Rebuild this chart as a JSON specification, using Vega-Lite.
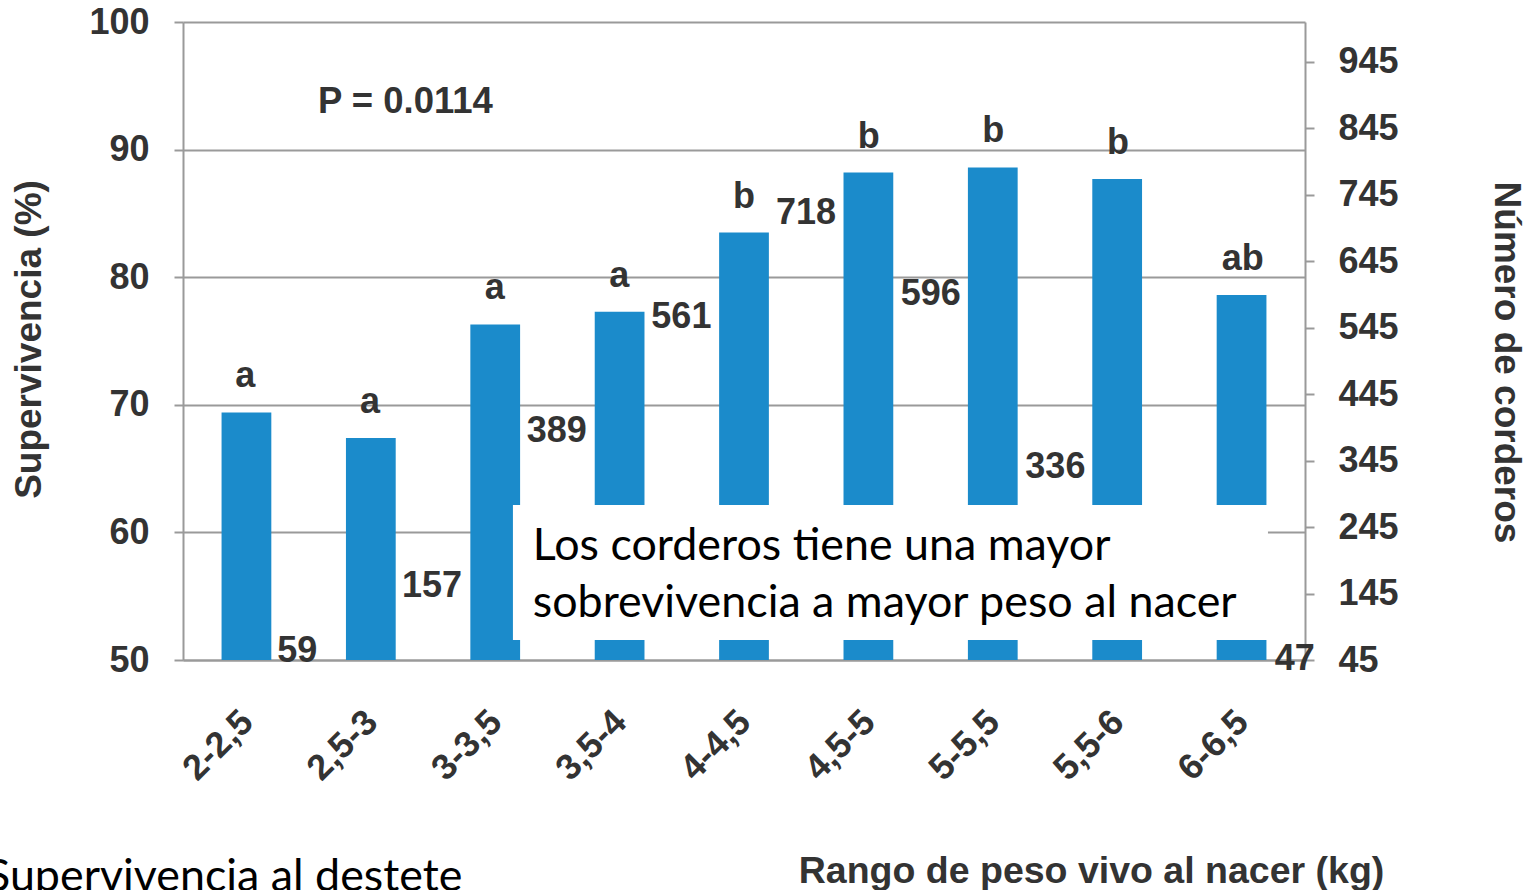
{
  "$schema": "https://vega.github.io/schema/vega-lite/v6.json",
  "width": 1122,
  "height": 638,
  "autosize": {"type": "none"},
  "padding": {"left": 183, "top": 22, "right": 226, "bottom": 230},
  "background": "white",
  "config": {
    "view": {"stroke": null},
    "font": "Liberation Sans"
  },
  "data": {
    "values": [
      {"rango": "2-2,5", "superv": 69.4, "letra": "a", "n": 59},
      {"rango": "2,5-3", "superv": 67.4, "letra": "a", "n": 157},
      {"rango": "3-3,5", "superv": 76.3, "letra": "a", "n": 389},
      {"rango": "3,5-4", "superv": 77.3, "letra": "a", "n": 561},
      {"rango": "4-4,5", "superv": 83.5, "letra": "b", "n": 718},
      {"rango": "4,5-5", "superv": 88.2, "letra": "b", "n": 596},
      {"rango": "5-5,5", "superv": 88.6, "letra": "b", "n": 336},
      {"rango": "5,5-6", "superv": 87.7, "letra": "b", "n": null},
      {"rango": "6-6,5", "superv": 78.6, "letra": "ab", "n": 47}
    ]
  },
  "resolve": {"scale": {"x": "independent", "y": "independent"}},
  "layer": [
    {
      "mark": {"type": "bar", "color": "#1b8bcb"},
      "encoding": {
        "x": {
          "field": "rango", "type": "nominal",
          "scale": {"domain": ["2-2,5","2,5-3","3-3,5","3,5-4","4-4,5","4,5-5","5-5,5","5,5-6","6-6,5"], "paddingInner": 0.6, "paddingOuter": 0.31},
          "axis": {
            "title": "Rango de peso vivo al nacer (kg)",
            "titleX": 908, "titleY": 222, "titleAlign": "center", "titleBaseline": "alphabetic",
            "titleFontSize": 37.5, "titleFontWeight": "bold", "titleColor": "#333333",
            "labelAngle": -45, "labelAlign": "right", "labelBaseline": "middle",
            "labelPadding": 56, "labelOffset": 1, "ticks": false,
            "labelFontSize": 36, "labelFontWeight": "bold", "labelColor": "#333333",
            "domain": true, "domainColor": "#9a9a9a", "domainWidth": 2, "grid": false
          }
        },
        "y": {
          "field": "superv", "type": "quantitative",
          "scale": {"domain": [50, 100], "nice": false, "zero": false},
          "axis": {
            "orient": "left",
            "values": [50, 60, 70, 80, 90, 100],
            "title": "Supervivencia (%)",
            "titleAngle": -90, "titleX": -154, "titleY": 317, "titleAlign": "center", "titleBaseline": "middle",
            "titleFontSize": 37, "titleFontWeight": "bold", "titleColor": "#333333",
            "grid": true, "gridColor": "#9a9a9a", "gridWidth": 2,
            "domain": true, "domainColor": "#9a9a9a", "domainWidth": 2,
            "ticks": true, "tickSize": 9, "tickColor": "#9a9a9a", "tickWidth": 2,
            "labelPadding": 25, "labelFontSize": 36, "labelFontWeight": "bold", "labelColor": "#333333"
          }
        },
        "y2": {"datum": 50}
      }
    },
    {
      "mark": {"type": "text", "dy": -25, "baseline": "alphabetic", "align": "center", "fontSize": 36, "fontWeight": "bold", "color": "#333333"},
      "encoding": {
        "x": {
          "field": "rango", "type": "nominal",
          "scale": {"domain": ["2-2,5","2,5-3","3-3,5","3,5-4","4-4,5","4,5-5","5-5,5","5,5-6","6-6,5"], "paddingInner": 0.6, "paddingOuter": 0.31},
          "axis": null
        },
        "y": {"field": "superv", "type": "quantitative", "scale": {"domain": [50, 100], "nice": false, "zero": false}, "axis": null},
        "text": {"field": "letra", "type": "nominal"}
      }
    },
    {
      "mark": {"type": "text", "dx": 32, "baseline": "middle", "align": "left", "fontSize": 36, "fontWeight": "bold", "color": "#333333"},
      "encoding": {
        "x": {
          "field": "rango", "type": "nominal",
          "scale": {"domain": ["2-2,5","2,5-3","3-3,5","3,5-4","4-4,5","4,5-5","5-5,5","5,5-6","6-6,5"], "paddingInner": 0.6, "paddingOuter": 0.31},
          "axis": null
        },
        "y": {
          "field": "n", "type": "quantitative",
          "scale": {"domain": [45, 1005], "nice": false, "zero": false},
          "axis": {
            "orient": "right",
            "values": [45, 145, 245, 345, 445, 545, 645, 745, 845, 945],
            "title": "Número de corderos",
            "titleAngle": 90, "titleX": 200, "titleY": 340, "titleAlign": "center", "titleBaseline": "middle",
            "titleFontSize": 37, "titleFontWeight": "bold", "titleColor": "#333333",
            "grid": false,
            "domain": true, "domainColor": "#9a9a9a", "domainWidth": 2,
            "ticks": true, "tickSize": 9, "tickColor": "#9a9a9a", "tickWidth": 2,
            "labelPadding": 24, "labelFontSize": 36, "labelFontWeight": "bold", "labelColor": "#333333"
          }
        },
        "text": {"field": "n", "type": "quantitative"}
      }
    },
    {
      "data": {"values": [{"txt": "P = 0.0114"}]},
      "mark": {"type": "text", "align": "left", "baseline": "alphabetic", "fontSize": 36.5, "fontWeight": "bold", "color": "#333333"},
      "encoding": {
        "x": {"datum": 1.571, "type": "quantitative", "scale": {"domain": [0.485, 9.514], "nice": false, "zero": false}, "axis": null},
        "y": {"datum": 92.87, "type": "quantitative", "scale": {"domain": [50, 100], "nice": false, "zero": false}, "axis": null},
        "text": {"field": "txt", "type": "nominal"}
      }
    },
    {
      "data": {"values": [{"caja": "nota"}]},
      "mark": {"type": "rect", "color": "white", "opacity": 1},
      "encoding": {
        "x": {"datum": 3.14, "type": "quantitative", "scale": {"domain": [0.485, 9.514], "nice": false, "zero": false}, "axis": null},
        "x2": {"datum": 9.216},
        "y": {"datum": 62.15, "type": "quantitative", "scale": {"domain": [50, 100], "nice": false, "zero": false}, "axis": null},
        "y2": {"datum": 51.57}
      }
    },
    {
      "data": {"values": [{"txt": "Los corderos tiene una mayor\nsobrevivencia a mayor peso al nacer"}]},
      "mark": {"type": "text", "align": "left", "baseline": "alphabetic", "lineBreak": "\n", "lineHeight": 57, "font": "Lato", "fontSize": 44.8, "color": "#000000"},
      "encoding": {
        "x": {"datum": 3.30, "type": "quantitative", "scale": {"domain": [0.485, 9.514], "nice": false, "zero": false}, "axis": null},
        "y": {"datum": 57.84, "type": "quantitative", "scale": {"domain": [50, 100], "nice": false, "zero": false}, "axis": null},
        "text": {"field": "txt", "type": "nominal"}
      }
    },
    {
      "data": {"values": [{"txt": "Supervivencia al destete"}]},
      "mark": {"type": "text", "align": "left", "baseline": "alphabetic", "font": "Lato", "fontSize": 44.8, "color": "#000000"},
      "encoding": {
        "x": {"datum": -1.10, "type": "quantitative", "scale": {"domain": [0.485, 9.514], "nice": false, "zero": false}, "axis": null},
        "y": {"datum": 31.9, "type": "quantitative", "scale": {"domain": [50, 100], "nice": false, "zero": false}, "axis": null},
        "text": {"field": "txt", "type": "nominal"}
      }
    }
  ]
}
